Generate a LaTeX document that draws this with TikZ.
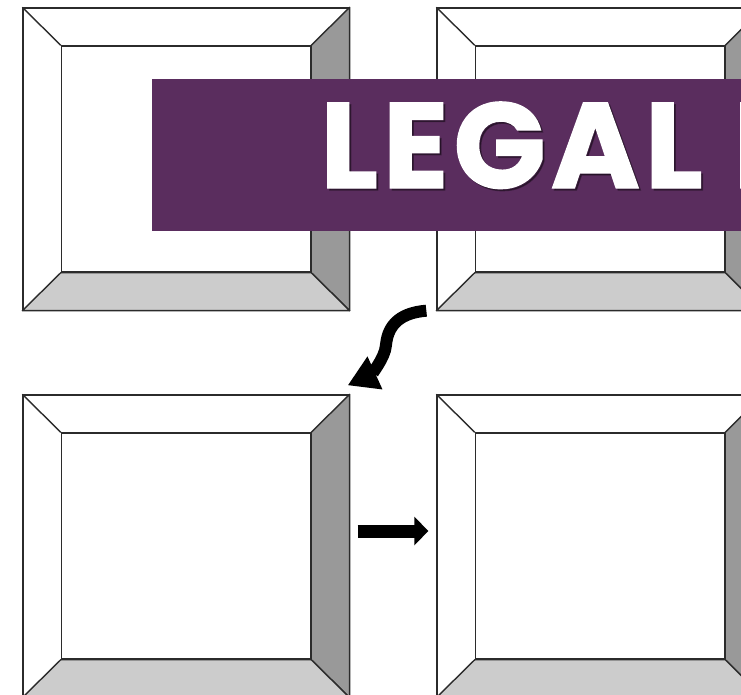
\documentclass[tikz,border=0pt]{standalone}
\usepackage{fontspec}
\usetikzlibrary{arrows.meta,calc}
\newfontfamily\bannerfont{Poppins}[LetterSpace=4, FakeBold=1.2]
\definecolor{frameink}{HTML}{2B2B2B}
\definecolor{bevelside}{HTML}{999999}
\definecolor{bevelbase}{HTML}{CCCCCC}
\definecolor{bannerpurple}{HTML}{5A2D5E}

\begin{document}
\begin{tikzpicture}[
  x=0.02cm, y=-0.02cm,
  bevelframe/.style={
    draw=frameink, fill=white, line width=0.8pt,
    minimum width=6.52cm, minimum height=6.04cm, inner sep=0pt
  },
  bevelinner/.style={
    draw=frameink, line width=0.8pt,
    minimum width=4.98cm, minimum height=4.52cm, inner sep=0pt
  },
  bevel/.style={draw=frameink, line width=0.8pt, line join=round},
  banner/.style={fill=bannerpurple, minimum width=12cm, minimum height=3.04cm, inner sep=0pt, anchor=west},
  titletext/.style={font=\bannerfont\bfseries\fontsize{69}{69}\selectfont, text=white, inner sep=0pt, anchor=base west},
  titleshadow/.style={titletext, text=black, opacity=0.35},
  bigarrow/.style={draw=black, line width=0.24cm, -{Triangle[length=0.6cm,width=0.68cm]}},
  flatarrow/.style={draw=black, line width=0.26cm, -{Triangle[length=0.28cm,width=0.56cm]}},
]

\useasboundingbox (0,0) rectangle (741,694);
\clip (0,0) rectangle (741,694);

% ---- bevelled frames ----
\foreach \name/\cx/\cy in {boxA/186/159, boxB/600/159, boxC/186/546, boxD/600/546}{
  \node[bevelframe] (\name) at (\cx,\cy) {};
  \node[bevelinner] (\name-in) at (\cx,\cy) {};
  \filldraw[bevel, fill=bevelside] (\name.north east) -- (\name.south east) -- (\name-in.south east) -- (\name-in.north east) -- cycle;
  \filldraw[bevel, fill=bevelbase] (\name.south west) -- (\name.south east) -- (\name-in.south east) -- (\name-in.south west) -- cycle;
  \draw[bevel] (\name.north west) -- (\name-in.north west);
}

% ---- title banner ----
\node[banner] (banner) at (152,155) {};
\node[titleshadow] (titleshade) at (322,190) {LEGAL P};
\node[titletext] (title) at (320,188) {LEGAL P};

% ---- arrows ----
\coordinate (bend) at (386,345);
\draw[bigarrow] ([shift={(-10,0)}]boxB.south west) .. controls +(-24,2) and +(2,-22) .. (bend)
  .. controls +(-1,14) and +(22,-10) .. ([shift={(-2,-9)}]boxC.north east);
\draw[flatarrow] ([shift={(8,-15)}]boxC.east) -- ([shift={(-8,-15)}]boxD.west);

\end{tikzpicture}
\end{document}
